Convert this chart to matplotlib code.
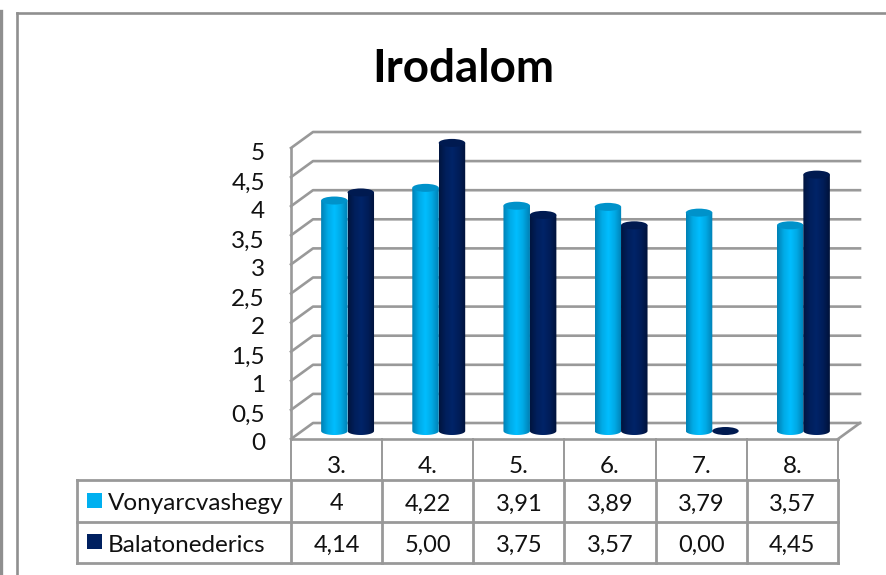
import matplotlib
matplotlib.use("Agg")
import matplotlib.pyplot as plt
import numpy as np
from matplotlib.colors import LinearSegmentedColormap
from matplotlib.patches import Ellipse, Rectangle
from matplotlib.path import Path

plt.rcParams["font.family"] = ["Lato", "DejaVu Sans"]

# data
title = "Irodalom"
categories = ["3.", "4.", "5.", "6.", "7.", "8."]
series_names = ["Vonyarcvashegy", "Balatonederics"]
vonyarc = [4, 4.22, 3.91, 3.89, 3.79, 3.57]
balaton = [4.14, 5.00, 3.75, 3.57, 0.00, 4.45]
vonyarc_labels = ["4", "4,22", "3,91", "3,89", "3,79", "3,57"]
balaton_labels = ["4,14", "5,00", "3,75", "3,57", "0,00", "4,45"]
y_ticks = [0, 0.5, 1, 1.5, 2, 2.5, 3, 3.5, 4, 4.5, 5]
y_tick_labels = ["0", "0,5", "1", "1,5", "2", "2,5", "3", "3,5", "4", "4,5", "5"]

GRID = "#999999"
W, H = 886, 575
# pixel position of the front plane of the plot
X0, X6 = 291, 838
Y0, Y5 = 439, 148
PX_X = (X6 - X0) / 6
PX_Y = (Y0 - Y5) / 5
DEPTH_X = 22 / PX_X
DEPTH_Y = 16 / PX_Y
# bars stand mid-depth, where the value scale is a bit shorter than on the walls
BAR_SCALE = 0.99

fig = plt.figure(figsize=(W / 100, H / 100), dpi=100)

# axes in pixels for frame, table and text
pix = fig.add_axes([0, 0, 1, 1])
pix.set_xlim(0, W)
pix.set_ylim(H, 0)
pix.axis("off")

# axes in data units for the walls and the bars
ax = fig.add_axes([0, 0, 1, 1])
ax.patch.set_alpha(0)
ax.axis("off")
xlim = (-X0 / PX_X, (W - X0) / PX_X)
ylim = (-(H - Y0) / PX_Y, Y0 / PX_Y)


def hline(x1, x2, y, lw=1.5, color=GRID):
    pix.plot([x1, x2], [y, y], color=color, lw=lw, solid_capstyle="projecting")


def vline(x, y1, y2, lw=1.5, color=GRID):
    pix.plot([x, x], [y1, y2], color=color, lw=lw, solid_capstyle="projecting")


def cylinder(center, value, colors, top_color, z):
    bw = 26.5 / PX_X
    eh = 8 / PX_Y
    x_l, x_r = center - bw / 2, center + bw / 2
    base = DEPTH_Y / 2
    top = base + value * BAR_SCALE
    if value > 0:
        t = np.linspace(np.pi, 2 * np.pi, 30)
        xs = center + bw / 2 * np.cos(t)
        ys = base + eh / 2 * np.sin(t)
        verts = [(x_l, top)] + list(zip(xs, ys)) + [(x_r, top), (x_l, top)]
        clip = Path(verts)
        cmap = LinearSegmentedColormap.from_list("c", colors)
        im = ax.imshow(np.linspace(0, 1, 64).reshape(1, -1), cmap=cmap, aspect="auto",
                       extent=[x_l, x_r, base - eh, top], zorder=z)
        im.set_clip_path(clip, transform=ax.transData)
    ax.add_patch(Ellipse((center, top), bw, eh, color=top_color, lw=0, zorder=z + 0.5))


# walls
for t in y_ticks:
    ax.plot([0, DEPTH_X, 6 + DEPTH_X], [t, t + DEPTH_Y, t + DEPTH_Y], color=GRID, lw=1.9, zorder=1)
ax.plot([0, 0], [0, 5], color=GRID, lw=1.9, zorder=1)
ax.plot([6, 6 + DEPTH_X], [0, DEPTH_Y], color=GRID, lw=1.9, zorder=1)
ax.plot([0, 6], [0, 0], color=GRID, lw=1.9, zorder=1)

light = ["#0080b4", "#00aae6", "#00beff", "#00a8e4", "#0080b4"]
dark = ["#00153f", "#001f5c", "#002468", "#001d58", "#00123a"]
bar_off = 13.2 / PX_X
for i in range(len(categories)):
    mid = i + 0.5 + DEPTH_X / 2
    cylinder(mid - bar_off, vonyarc[i], light, "#0092ca", 3 + i)
    cylinder(mid + bar_off, balaton[i], dark, "#001a50", 3.7 + i)
ax.set_xlim(*xlim)
ax.set_ylim(*ylim)

# chart frame
vline(17.5, 13, H, lw=1.9, color="#8f8f8f")
hline(17.5, W, 13, lw=1.9, color="#8f8f8f")
vline(0.5, 11, H, lw=2.4, color="#8f8f8f")

# table
col_x = [X0 + k * PX_X for k in range(7)]
rows_y = [439, 480, 522, 563]
for x in col_x:
    vline(x, rows_y[0], rows_y[1], lw=1.4)
    vline(x, rows_y[1], rows_y[3], lw=2.0)
vline(77.5, rows_y[1], rows_y[3], lw=2.0)
hline(77.5, X6, rows_y[1], lw=2.0)
hline(77.5, X6, rows_y[2], lw=2.0)
hline(77.5, X6, rows_y[3], lw=2.0)

TXT = 17.5
text_y = [(rows_y[k] + rows_y[k + 1]) / 2 for k in range(3)]
for i, cat in enumerate(categories):
    cx = X0 + (i + 0.5) * PX_X
    pix.text(cx, text_y[0] + 7, cat, ha="center", va="center", fontsize=TXT, color="#111111")
    pix.text(cx, text_y[1] + 3, vonyarc_labels[i], ha="center", va="center", fontsize=17, color="#111111")
    pix.text(cx, text_y[2] + 3, balaton_labels[i], ha="center", va="center", fontsize=17, color="#111111")

# legend keys
pix.add_patch(Rectangle((87, 493), 15, 15, color="#00b0f0", lw=0))
pix.add_patch(Rectangle((87, 534), 15, 15, color="#002060", lw=0))
pix.text(108, text_y[1] + 2.5, series_names[0], ha="left", va="center", fontsize=TXT, color="#111111")
pix.text(108, text_y[2] + 2.5, series_names[1], ha="left", va="center", fontsize=TXT, color="#111111")

# value axis labels
for t, lab in zip(y_ticks, y_tick_labels):
    pix.text(265, Y0 + 5 - t * 58.0, lab, ha="right", va="center", fontsize=TXT, color="#111111")

pix.text(463, 69, title, ha="center", va="center", fontsize=33, fontweight="bold", color="black")

fig.savefig("out.png", dpi=100)
plt.close(fig)
